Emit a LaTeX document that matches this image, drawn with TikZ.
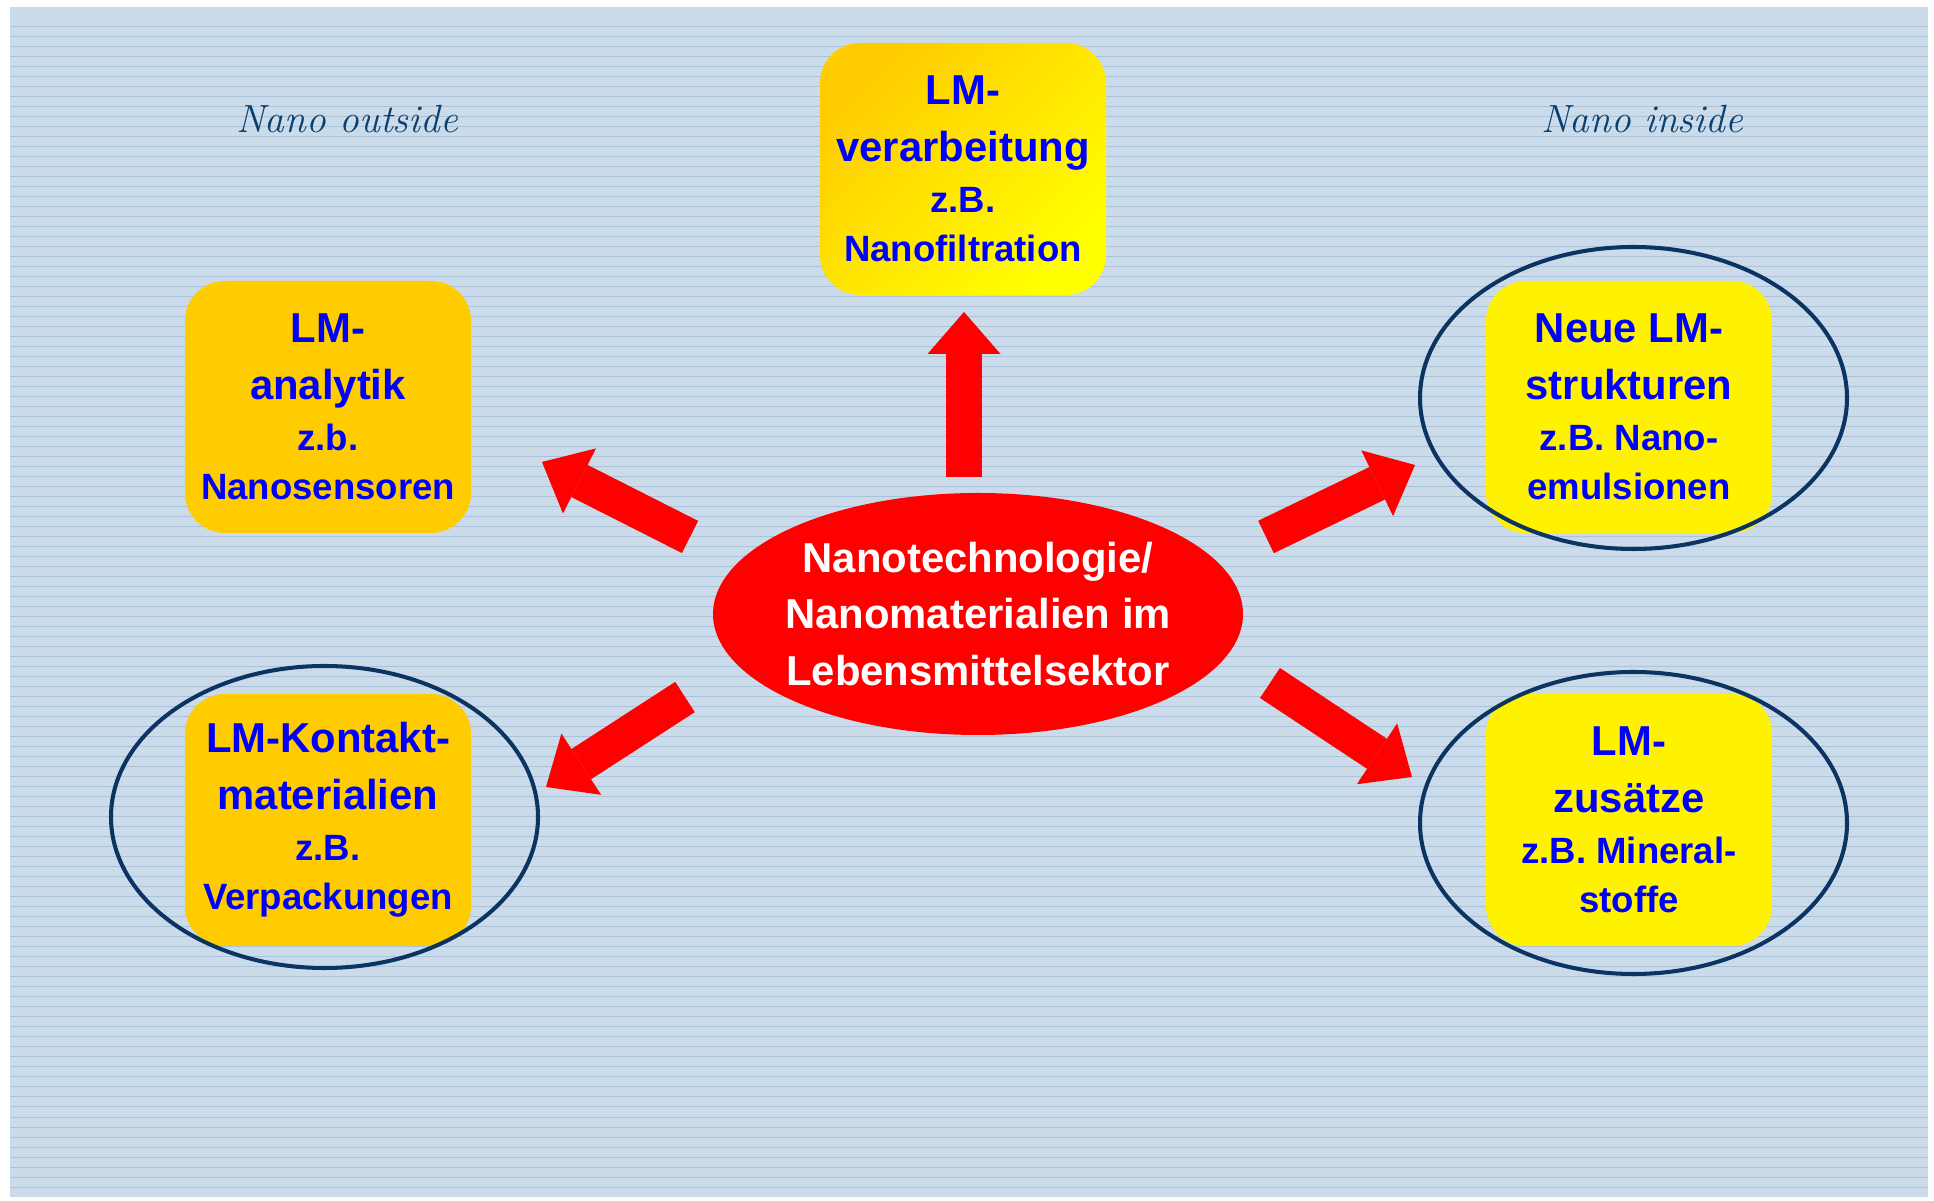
\documentclass[tikz,border=0pt]{standalone}
\usepackage{fontspec}
\setsansfont{Liberation Sans}
\usetikzlibrary{shapes,arrows.meta,positioning}
\definecolor{paper}{HTML}{CBDBE9}
\definecolor{rule}{HTML}{ABC3DA}
\definecolor{amber}{HTML}{FFCC00}
\definecolor{navy}{HTML}{0B3462}
\definecolor{ink}{HTML}{0B3F6E}
\colorlet{lemon}{yellow}
\newcommand{\hd}[1]{{\fontsize{11.9}{16}\selectfont #1}}
\tikzstyle{lmbox}=[rounded corners=.4cm,minimum width=2.86cm,minimum
height=2.52cm,inner sep=0pt,align=center,text=blue,
  font=\sffamily\bfseries\fontsize{10.4}{13.9}\selectfont]
\tikzstyle{ring}=[draw=navy,line width=1.15pt,ellipse,minimum width=4.27cm,
  minimum height=3.02cm]
\tikzstyle{push}=[red,line width=.36cm,
  -{Triangle[length=.42cm,width=.73cm,line width=0pt]}]
\tikzstyle{tag}=[text=ink,anchor=base,font=\itshape\fontsize{11.2}{13}\selectfont]

\begin{document}
\begin{tikzpicture}[node distance=2cm, on grid]
  \useasboundingbox (0,0) rectangle (19.34,12.01);
  % ruled paper
  \fill[paper] (0.1,0.04) rectangle (19.28,11.94);
  \foreach \y in {0.14,0.24,...,11.84}
    \draw[rule, line width=.28pt] (0.1,\y) -- (19.28,\y);

  \node[tag] (outside) at (3.47,10.68) {Nano outside};
  \node[tag] (inside) at (16.42,10.68) {Nano inside};

  \node[ellipse, fill=red, minimum width=5.3cm, minimum height=2.42cm,
    inner xsep=-.12cm, inner ysep=0pt, align=center, text=white,
    font=\sffamily\bfseries\fontsize{11.9}{16.2}\selectfont]
    (core) at (9.78,5.87) {Nanotechnologie/\\Nanomaterialien im\\Lebensmittelsektor};

  \node[lmbox, left color=amber, right color=lemon, shading angle=45,
    above left=4.45cm and .15cm of core] (verarb)
    {\hd{LM-}\\[2.3pt] \hd{verarbeitung}\\[.6pt] z.B.\\ Nanofiltration};
  \node[lmbox, fill=amber, above left=2.07cm and 6.5cm of core] (analytik)
    {\hd{LM-}\\[2.3pt] \hd{analytik}\\[.6pt] z.b.\\ Nanosensoren};
  \node[lmbox, fill=amber, below left=2.06cm and 6.5cm of core] (kontakt)
    {\hd{LM-Kontakt-}\\[2.3pt] \hd{materialien}\\[.6pt] z.B.\\ Verpackungen};
  \node[lmbox, fill=lemon, above right=2.07cm and 6.51cm of core] (struktur)
    {\hd{Neue LM-}\\[2.3pt] \hd{strukturen}\\[.6pt] z.B. Nano-\\ emulsionen};
  \node[lmbox, fill=lemon, below right=2.06cm and 6.51cm of core] (zusatz)
    {\hd{LM-}\\[2.3pt] \hd{zusätze}\\[.6pt] z.B. Mineral-\\ stoffe};

  % nano inside / outside rings
  \node[ring, xshift=-.035cm, yshift=.03cm] (kring) at (kontakt) {};
  \node[ring, xshift=.045cm, yshift=.09cm] (sring) at (struktur) {};
  \node[ring, xshift=.045cm, yshift=-.03cm] (zring) at (zusatz) {};

  \coordinate (u0) at (9.64,7.24);  \coordinate (u1) at (9.64,8.89);
  \coordinate (a0) at (6.90,6.64);  \coordinate (a1) at (5.42,7.39);
  \coordinate (s0) at (12.66,6.64); \coordinate (s1) at (14.15,7.36);
  \coordinate (k0) at (6.85,5.04);  \coordinate (k1) at (5.46,4.14);
  \coordinate (z0) at (12.70,5.18); \coordinate (z1) at (14.12,4.24);
  \draw[push] (u0) -- (u1);
  \draw[push] (a0) -- (a1);
  \draw[push] (s0) -- (s1);
  \draw[push] (k0) -- (k1);
  \draw[push] (z0) -- (z1);
\end{tikzpicture}
\end{document}
